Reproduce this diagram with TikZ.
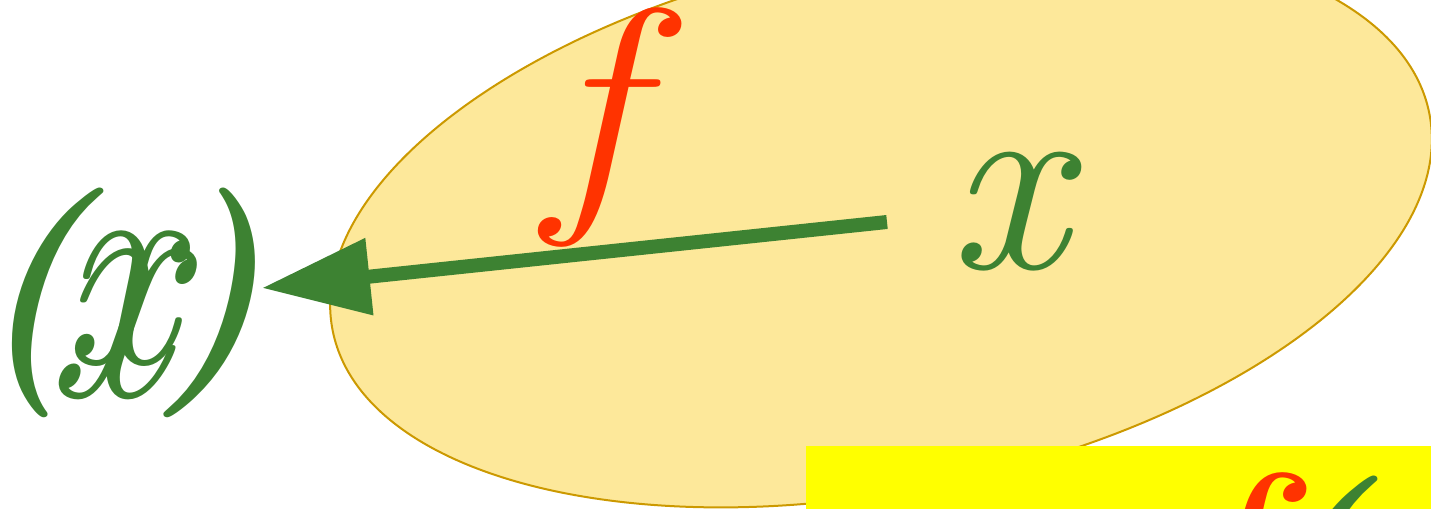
\documentclass[tikz,border=0pt]{standalone}
\usepackage{fontspec}
\usetikzlibrary{arrows.meta, shapes.geometric}
\definecolor{setfill}{RGB}{253,232,154}
\definecolor{setdraw}{RGB}{204,153,0}
\definecolor{elemgreen}{RGB}{61,130,50}
\definecolor{mapred}{RGB}{255,51,0}
\definecolor{cardyellow}{RGB}{255,255,0}
\newcommand\glyphsize{\fontsize{132pt}{132pt}\selectfont}
\newcommand\parsize{\fontsize{115pt}{115pt}\selectfont}

\begin{document}
\begin{tikzpicture}[x=0.5pt, y=0.5pt,
  setblob/.style={ellipse, draw=setdraw, line width=1pt, fill=setfill,
                 minimum width=559pt, minimum height=269pt, inner sep=0pt},
  sym/.style={inner sep=0pt, anchor=base, font=\glyphsize\itshape},
  elem/.style={sym, text=elemgreen},
  fname/.style={sym, text=mapred, xscale=1.15},
  paren/.style={elem, font=\parsize\bfseries\itshape},
  maparrow/.style={-{Triangle[length=54pt,width=37pt]}, line width=7pt, elemgreen},
  card/.style={rectangle, fill=cardyellow, inner sep=0pt, minimum width=350pt, minimum height=75pt},
]
\useasboundingbox (0,0) rectangle (1431,509);
\clip (0,0) rectangle (1431,509);

% domain of f
\node[setblob, rotate=11.2] (dom) at (881,287) {};
\node[elem] (xin) at (1008,240) {x};
\node[fname] (fmap) at (592,315) {f};

% the image f(x), caught between two frames
\node[paren] (lpar) at (28,148) {(};
\node[paren] (rpar) at (211,148) {)};
\node[elem, xscale=0.96, yscale=1.14] (xouta) at (120,145) {x};
\node[elem, yscale=1.27, xslant=0.2] (xoutb) at (103,112) {x};

% the map arrow
\coordinate (tail) at (887,287);
\coordinate (head) at (262,221);
\draw[maparrow] (tail) -- (head);

% next card, cut off at the bottom
\node[card, anchor=north west] (card) at (806,63) {};
\begin{scope}
  \clip (card.south west) rectangle (card.north east);
  \node[fname] (fnext) at (1217,-149) {f};
  \node[paren] (parnext) at (1302,-139) {(};
\end{scope}
\end{tikzpicture}
\end{document}
